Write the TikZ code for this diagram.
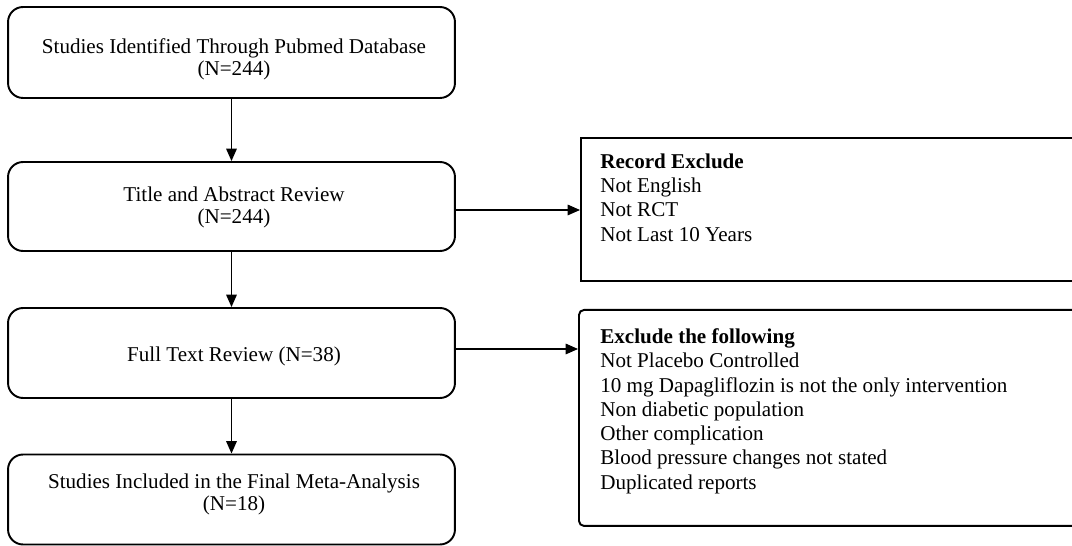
\documentclass[tikz,border=0pt]{standalone}
\usepackage{fontspec}
\setmainfont{Liberation Serif}
\usetikzlibrary{arrows.meta}
\begin{document}
\begin{tikzpicture}[x=0.02cm,y=-0.02cm,
  mainbox/.style={draw,line width=1.1pt,rounded corners=0.3cm,minimum width=8.94cm},
  maintext/.style={inner sep=0pt,align=center,font=\fontsize{12}{12.5}\selectfont},
  exbox/.style={draw,line width=1.1pt,anchor=north west,minimum width=10.6cm},
  extext/.style={anchor=north west,inner sep=0pt,align=left,font=\fontsize{12}{13.8}\selectfont},
  conn/.style={line width=0.7pt,-{Triangle[length=7pt,width=6pt]}}]
\useasboundingbox (0,0) rectangle (1072,546);
\clip (0,0) rectangle (1072,546);

\node[mainbox,minimum height=1.82cm] (b1) at (231.5,52.5) {};
\node[maintext] (l1) at (234,59) {Studies Identified Through Pubmed Database\\(N=244)};
\node[mainbox,minimum height=1.78cm] (b2) at (231.5,206.5) {};
\node[maintext] (l2) at (234,207) {Title and Abstract Review\\(N=244)};
\node[mainbox,minimum height=1.80cm] (b3) at (231.5,353) {};
\node[maintext] (l3) at (234,356) {Full Text Review (N=38)};
\node[mainbox,minimum height=1.80cm] (b4) at (231.5,499.5) {};
\node[maintext] (l4) at (234,494) {Studies Included in the Final Meta-Analysis\\(N=18)};

\node[exbox,minimum height=2.86cm] (r1) at (580,137) {};
\node[extext] (t1) at ([xshift=0.4cm,yshift=-0.33cm]r1.north west)
  {\textbf{Record Exclude}\\Not English\\Not RCT\\Not Last 10 Years};

\node[exbox,rounded corners=0.1cm,minimum height=4.32cm] (r2) at (578,309) {};
\node[extext] (t2) at ([xshift=0.44cm,yshift=-0.39cm]r2.north west)
  {\textbf{Exclude the following}\\Not Placebo Controlled\\10 mg Dapagliflozin is not the only intervention\\Non diabetic population\\Other complication\\Blood pressure changes not stated\\Duplicated reports};

\draw[conn] (b1) -- (b2);
\draw[conn] (b2) -- (b3);
\draw[conn] (b3) -- (b4);
\draw[conn] ([yshift=-0.07cm]b2.east) -- ([yshift=-0.07cm]b2.east -| r1.west);
\draw[conn] ([yshift=0.08cm]b3.east) -- ([yshift=0.08cm]b3.east -| r2.west);
\end{tikzpicture}
\end{document}
